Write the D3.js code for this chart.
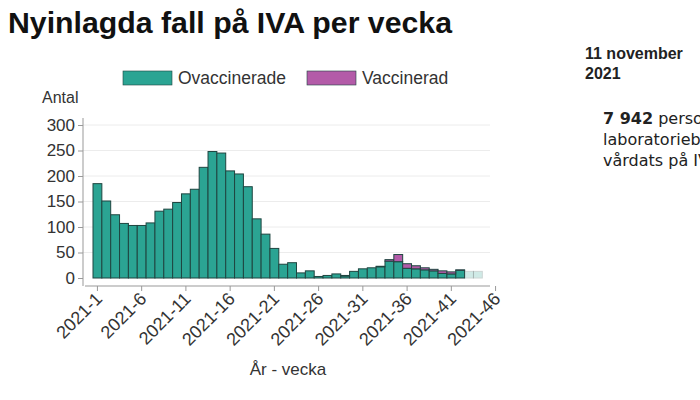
<!DOCTYPE html>
<html>
<head>
<meta charset="utf-8">
<script src="https://cdn.jsdelivr.net/npm/d3@7"></script>
<style>
	body { margin: 0; background: #fff; }
	svg { display: block; font-family: "Liberation Sans", Arial, sans-serif; }
</style>
</head>
<body>
<svg width="700" height="400"></svg>
<script>
// weeks shown on the axis (2021-1 .. 2021-46)
var weeks = d3.range(1, 47);
// weeks that have data
var dataWeeks = d3.range(1, 45);
// preliminary weeks, drawn faded
var prelimWeeks = [43, 44];

// new IVA cases per week
var unvacc = [185, 151, 124, 107, 103, 103, 108, 131, 135, 148, 165, 174, 217, 248, 245,
	210, 204, 179, 116, 86, 58, 27, 30, 10, 14, 3, 5, 8, 4,
	13, 18, 20, 22, 33, 32, 19, 18, 16, 14, 9, 8, 15, 13, 13];
var vacc = [0, 0, 0, 0, 0, 0, 0, 0, 0, 0, 0, 0, 0, 0, 0,
	0, 0, 0, 0, 0, 0, 0, 0, 0, 0, 0, 0, 0, 1,
	0, 0, 0, 1, 3, 14, 9, 6, 4, 3, 5, 4, 1, 0, 0];

var yTicks = [0, 50, 100, 150, 200, 250, 300];
var xTicks = [1, 6, 11, 16, 21, 26, 31, 36, 41, 46];

var seriesNames = ["Ovaccinerade", "Vaccinerad"];
var colors = ["#2ba493", "#b35ba8"];

var svg = d3.select("svg");

// scales
var xscale = d3.scaleBand().domain(weeks).range([93, 500]).padding(0);
var yscale = d3.scaleLinear().domain([0, 300]).range([278, 125]);

// stacked table
var table = dataWeeks.map(function(w, i) {
	return { week: w, Ovaccinerade: unvacc[i], Vaccinerad: vacc[i] };
});
var stack = d3.stack().keys(seriesNames)(table);

// title
svg.append("text")
	.attr("x", 8).attr("y", 33)
	.attr("font-size", 30).attr("font-weight", "bold").attr("fill", "#111")
	.attr("textLength", 444).attr("lengthAdjust", "spacingAndGlyphs")
	.text("Nyinlagda fall på IVA per vecka");

// gridlines
svg.append("g").selectAll("line")
	.data(yTicks.slice(1))
	.enter().append("line")
		.attr("x1", 83).attr("x2", 490)
		.attr("y1", function(d) { return yscale(d); })
		.attr("y2", function(d) { return yscale(d); })
		.attr("stroke", "#ececec");

// bars
svg.append("g").selectAll("g")
	.data(stack)
	.enter().append("g")
		.attr("fill", function(d, i) { return colors[i]; })
	.selectAll("rect")
	.data(function(d) { return d; })
	.enter().append("rect")
		.attr("x", function(d) { return xscale(d.data.week); })
		.attr("width", xscale.bandwidth())
		.attr("y", function(d) { return yscale(d[1]); })
		.attr("height", function(d) { return yscale(d[0]) - yscale(d[1]); })
		.attr("stroke", "#1f4540")
		.attr("stroke-width", 1)
		.attr("opacity", function(d) { return prelimWeeks.indexOf(d.data.week) >= 0 ? 0.22 : 1; });

// y axis
var yaxis = d3.axisLeft(yscale).tickValues(yTicks).tickSize(5).tickPadding(3);
var yg = svg.append("g")
	.attr("transform", "translate(83,0)")
	.call(yaxis);
yg.select(".domain").attr("d", "M0,118V286").attr("stroke", "#999");
yg.selectAll(".tick line").attr("stroke", "#999");
yg.selectAll(".tick text").attr("font-size", 17).attr("fill", "#333")
	.attr("font-family", "Liberation Sans, Arial, sans-serif");

// x axis
var xaxis = d3.axisBottom(xscale).tickValues(xTicks)
	.tickFormat(function(d) { return "2021-" + d; })
	.tickSize(5);
var xg = svg.append("g")
	.attr("transform", "translate(0,286)")
	.call(xaxis);
xg.select(".domain").attr("d", "M85,0H490").attr("stroke", "#999");
xg.selectAll(".tick line").attr("stroke", "#999");
xg.selectAll(".tick text")
	.attr("font-size", 18).attr("fill", "#333")
	.attr("font-family", "Liberation Sans, Arial, sans-serif")
	.attr("text-anchor", "end")
	.attr("dy", null).attr("y", 0)
	.attr("transform", "translate(6,14) rotate(-45)");

// axis titles
svg.append("text")
	.attr("x", 42).attr("y", 103)
	.attr("font-size", 16).attr("fill", "#333")
	.text("Antal");
svg.append("text")
	.attr("x", 288).attr("y", 375)
	.attr("text-anchor", "middle")
	.attr("font-size", 17).attr("fill", "#333")
	.text("År - vecka");

// legend
var legend = svg.append("g").selectAll("g")
	.data(seriesNames)
	.enter().append("g")
		.attr("transform", function(d, i) { return "translate(" + (123 + i * 184) + ",71)"; });
legend.append("rect")
	.attr("width", 49).attr("height", 14)
	.attr("fill", function(d, i) { return colors[i]; })
	.attr("stroke", "#1f4540").attr("stroke-width", 0.6);
legend.append("text")
	.attr("x", 55).attr("y", 13)
	.attr("font-size", 17.5).attr("fill", "#333")
	.text(function(d) { return d; });

// side text
var side = svg.append("g").attr("fill", "#222");
side.append("text").attr("x", 585).attr("y", 59)
	.attr("font-size", 16).attr("font-weight", "bold").text("11 november");
side.append("text").attr("x", 585).attr("y", 79)
	.attr("font-size", 16).attr("font-weight", "bold").text("2021");

var para = side.append("text")
	.attr("font-family", "DejaVu Sans, Verdana, sans-serif")
	.attr("font-size", 16);
var l1 = para.append("tspan").attr("x", 603).attr("y", 124);
l1.append("tspan").attr("font-weight", "bold").text("7 942");
l1.append("tspan").text(" personer med");
para.append("tspan").attr("x", 603).attr("y", 145).text("laboratoriebekräftad covid-19 har");
para.append("tspan").attr("x", 603).attr("y", 166).text("vårdats på IVA");
</script>
</body>
</html>
